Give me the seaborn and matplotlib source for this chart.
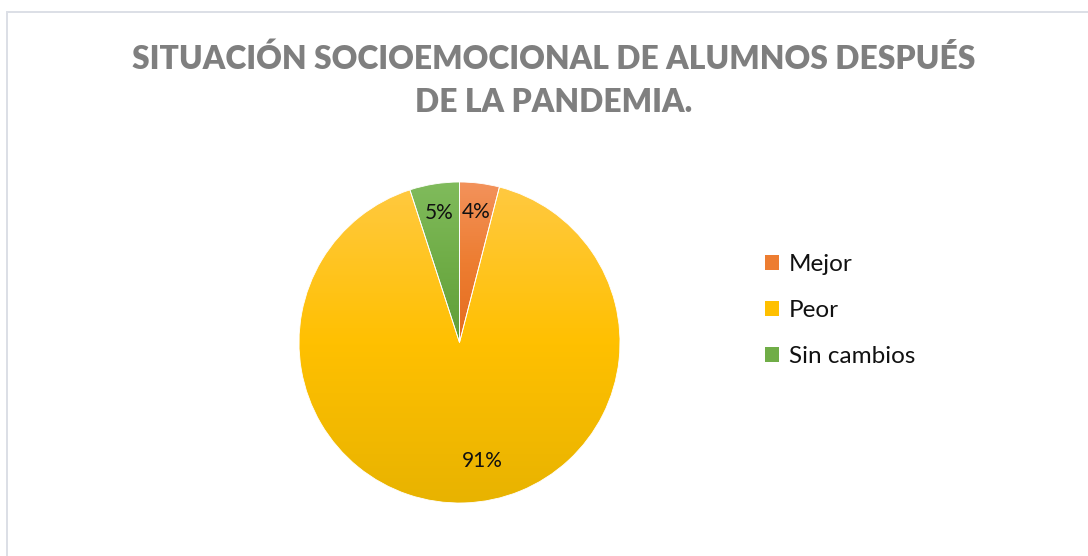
import numpy as np
import matplotlib
matplotlib.use("Agg")
import matplotlib.pyplot as plt
import seaborn as sns
from matplotlib.patches import Patch, Rectangle
from matplotlib.colors import to_rgb

# Survey results
categories = ["Mejor", "Peor", "Sin cambios"]
shares = [4, 91, 5]
title = "SITUACIÓN SOCIOEMOCIONAL DE ALUMNOS DESPUÉS\nDE LA PANDEMIA."

# Base colours and their light/dark gradient stops (top -> bottom)
base_colors = ["#ED7D31", "#FFC000", "#70AD47"]
top_colors = ["#F3925B", "#FFC940", "#80BB5C"]
bottom_colors = ["#E46C1E", "#E8B300", "#5F9E38"]

sns.set_theme(style="white")
plt.rcParams["font.family"] = ["Lato", "DejaVu Sans"]

W, H = 1088, 556
fig = plt.figure(figsize=(W / 100, H / 100), dpi=100)
fig.patch.set_facecolor("white")

# Chart-area frame
fig.add_artist(Rectangle((7 / W, -0.1), 1.2, 1 - 12 / H + 0.1,
                         transform=fig.transFigure, fill=False,
                         edgecolor="#DCDFE6", linewidth=1.4))

fig.text(553.5 / W, 1 - 80 / H, title, ha="center", va="center",
         fontsize=22.9, fontweight="heavy", color="#7F7F7F", linespacing=1.6)

cx, cy, r = 459.5, 342.5, 160.5
ax = fig.add_axes([(cx - r) / W, (H - cy - r) / H, 2 * r / W, 2 * r / H])

wedges, texts, autotexts = ax.pie(
    shares, startangle=90, counterclock=False, radius=1,
    autopct="%1.0f%%", pctdistance=0.82,
    wedgeprops=dict(facecolor="none", edgecolor="white", linewidth=0.6),
    textprops=dict(fontsize=15, color="#111111"),
)


def gradient(top, mid, bottom, n=256):
    t = np.linspace(0, 1, n)[:, None]
    a, b, c = (np.array(to_rgb(x)) for x in (top, mid, bottom))
    upper = a + (b - a) * np.clip(t * 2, 0, 1)
    lower = b + (c - b) * np.clip(t * 2 - 1, 0, 1)
    img = np.where(t < 0.5, upper, lower)
    return img[:, None, :]


for w, tc, bc, bcol in zip(wedges, top_colors, base_colors, bottom_colors):
    w.set_zorder(3)
    ext = w.get_path().get_extents()
    im = ax.imshow(gradient(tc, bc, bcol), extent=[ext.x0, ext.x1, ext.y0, ext.y1],
                   origin="upper", aspect="auto", zorder=2, interpolation="bilinear")
    im.set_clip_path(w)

for t in autotexts:
    t.set_zorder(4)
# Large slice label sits lower right
autotexts[1].set_position((0.14, -0.74))

ax.set_xlim(-1, 1)
ax.set_ylim(-1, 1)
ax.set_aspect("equal")
ax.axis("off")

handles = [Patch(facecolor=c, edgecolor="none") for c in base_colors]
fig.legend(handles, categories, loc="upper left",
           bbox_to_anchor=(743 / W, 1 - 232 / H), frameon=False,
           fontsize=17.5, handlelength=0.6, handleheight=0.6,
           handletextpad=0.4, labelspacing=1.03, labelcolor="#111111")

fig.savefig("out.png", dpi=100, facecolor="white")
